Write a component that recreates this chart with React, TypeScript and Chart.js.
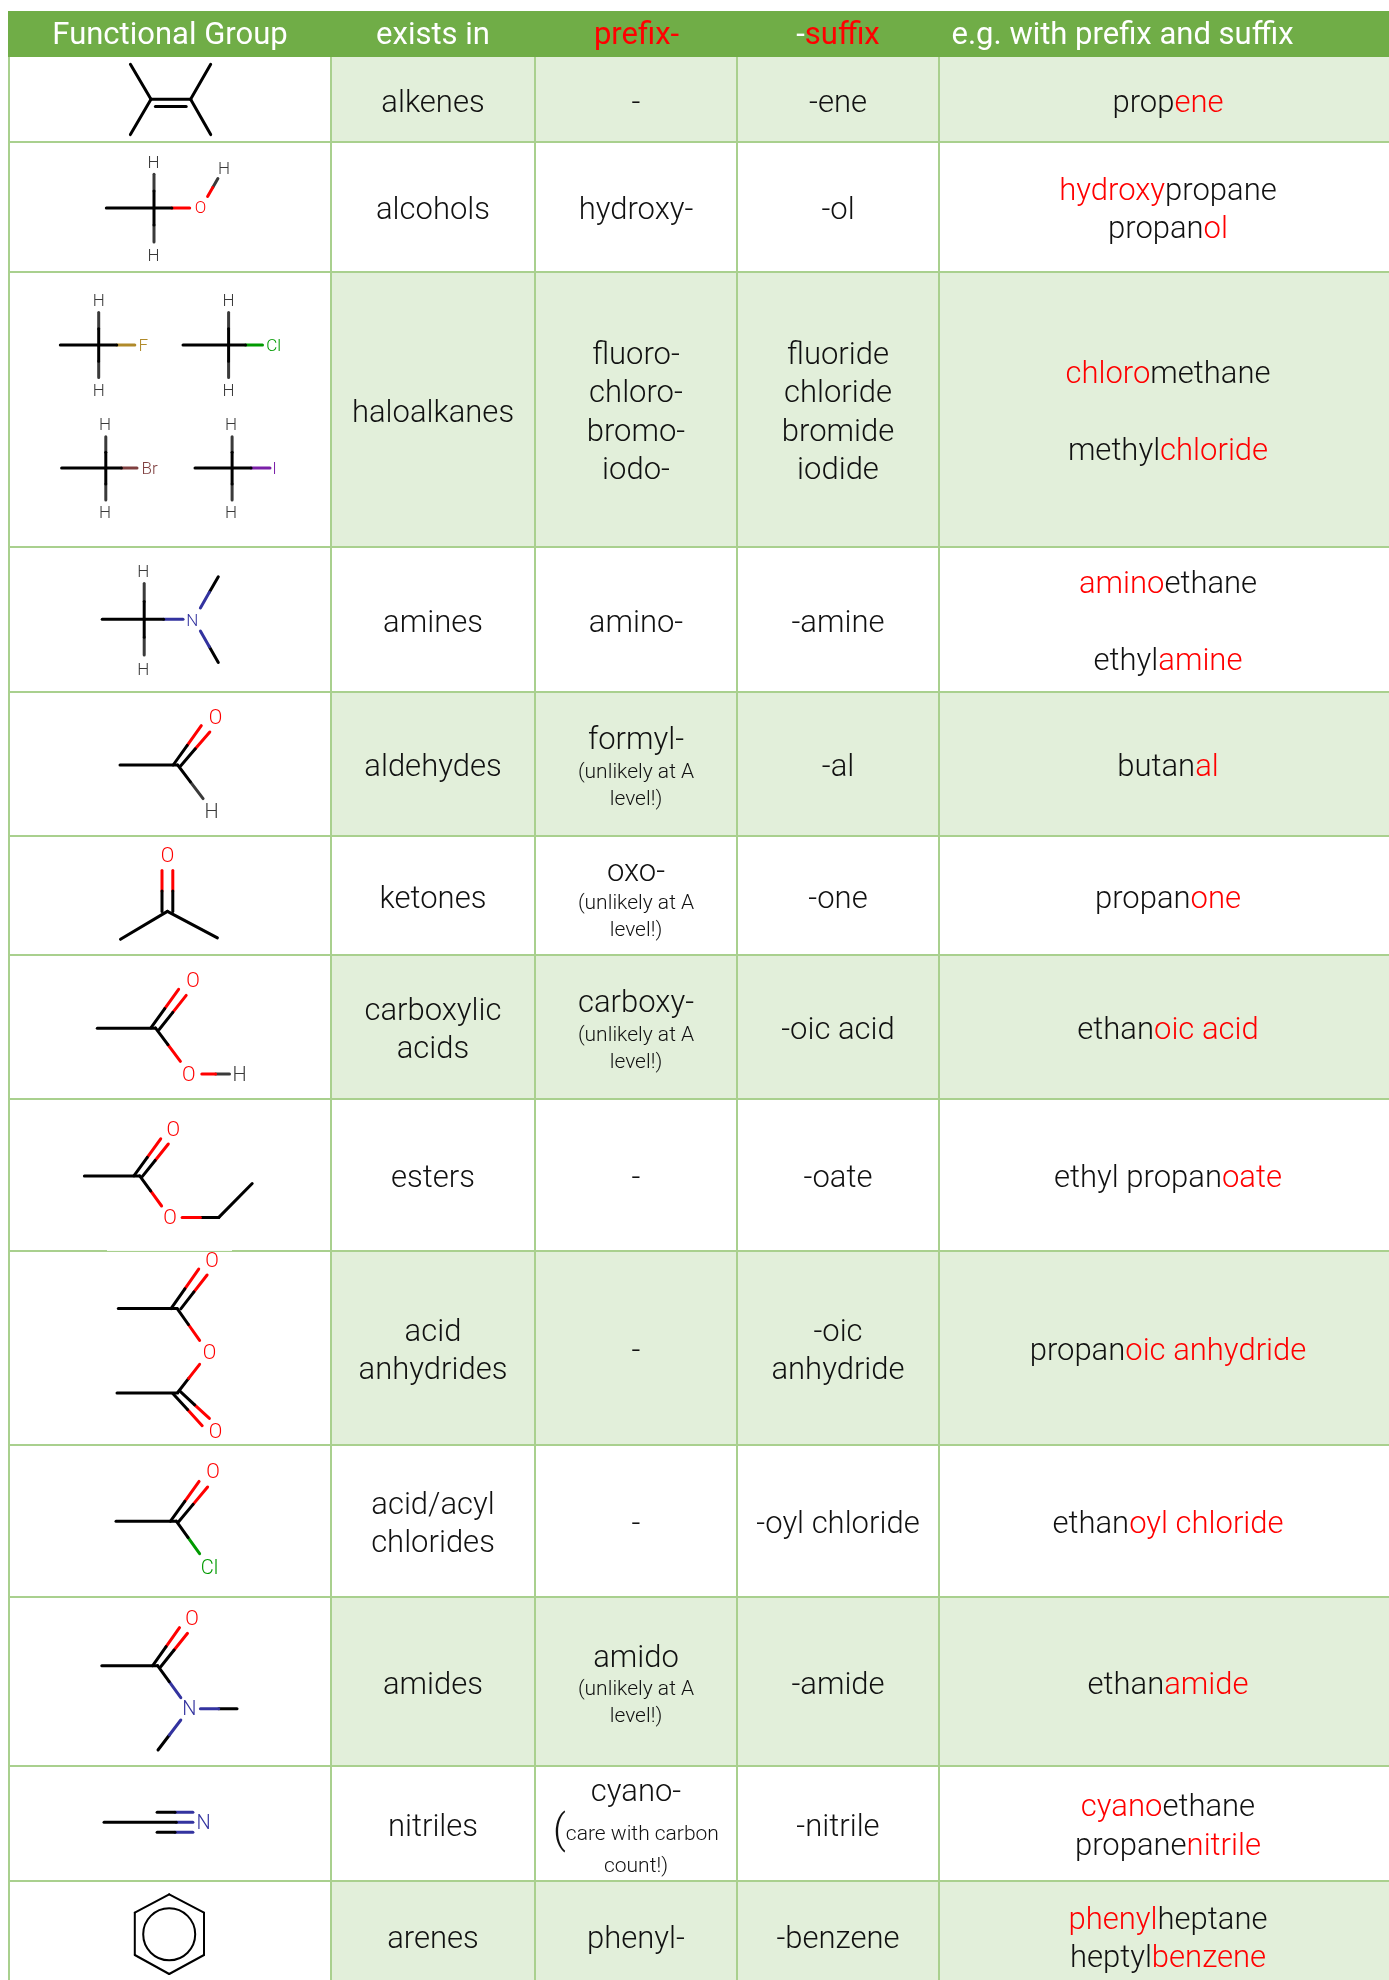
import React, { useEffect, useRef } from "react";
import { Chart, registerables } from "chart.js";

Chart.register(...registerables);

// ---- Table text ({...} marks red text, ~ marks a note line, ^ marks a note with a large bracket)
const headers = ["Functional Group", "exists in", "{prefix-}", "-{suffix}", "e.g. with prefix and suffix"];
const existsIn = [
  ["alkenes"], ["alcohols"], ["haloalkanes"], ["amines"], ["aldehydes"], ["ketones"], ["carboxylic", "acids"],
  ["esters"], ["acid", "anhydrides"], ["acid/acyl", "chlorides"], ["amides"], ["nitriles"], ["arenes"],
];
const note = "~(unlikely at A";
const noteEnd = "~level!)";
const prefixes = [
  ["-"], ["hydroxy-"], ["fluoro-", "chloro-", "bromo-", "iodo-"], ["amino-"],
  ["formyl-", note, noteEnd], ["oxo-", note, noteEnd], ["carboxy-", note, noteEnd],
  ["-"], ["-"], ["-"], ["amido", note, noteEnd],
  ["cyano-", "^(care with carbon", "~count!)"], ["phenyl-"],
];
const suffixes = [
  ["-ene"], ["-ol"], ["fluoride", "chloride", "bromide", "iodide"], ["-amine"], ["-al"], ["-one"], ["-oic acid"],
  ["-oate"], ["-oic", "anhydride"], ["-oyl chloride"], ["-amide"], ["-nitrile"], ["-benzene"],
];
const examples = [
  ["prop{ene}"], ["{hydroxy}propane", "propan{ol}"], ["{chloro}methane", "", "methyl{chloride}"],
  ["{amino}ethane", "", "ethyl{amine}"], ["butan{al}"], ["propan{one}"], ["ethan{oic acid}"],
  ["ethyl propan{oate}"], ["propan{oic anhydride}"], ["ethan{oyl chloride}"], ["ethan{amide}"],
  ["{cyano}ethane", "propane{nitrile}"], ["{phenyl}heptane", "heptyl{benzene}"],
];

// ---- Table grid, in chart units
const columnEdges = [9, 331, 535, 737, 939, 1389];
const columnCenters = [433, 636, 838, 1168];
const headerCenters = [170, 433, 636.5, 838, 1122.5];
const rowEdges = [57, 142, 272, 547, 692, 836, 955, 1099, 1251, 1445, 1597, 1766, 1881, 1991];
const headerTop = 11;

// ---- Molecule bonds: x1, y1, x2, y2, colour of first half, colour of second half
type Bond = [number, number, number, number, string, string?];
const alkene: Bond[] = [
  [151, 99.3, 190.6, 99.3, "k"], [155.4, 106.4, 186.2, 106.4, "k"],
  [130.4, 64.3, 151, 99.3, "k"], [210.7, 64.3, 190.6, 99.3, "k"],
  [130.4, 134.6, 151, 99.3, "k"], [210.7, 134.6, 190.6, 99.3, "k"],
];
const alcohol: Bond[] = [
  [106.3, 207.9, 154, 207.9, "k"], [154, 207.9, 154, 174.3, "k", "h"], [154, 207.9, 154, 242, "k", "h"],
  [154, 207.9, 189.7, 207.9, "k", "r"], [207.6, 196.4, 217.9, 178.6, "r", "h"],
];
const fluoro: Bond[] = [
  [60.3, 345, 98.7, 345, "k"], [98.7, 345, 98.7, 312.5, "k", "h"], [98.7, 345, 98.7, 377.5, "k", "h"],
  [98.7, 345, 134.8, 345, "k", "f"],
];
const chloro: Bond[] = [
  [183, 345, 228.6, 345, "k"], [228.6, 345, 228.6, 312.5, "k", "h"], [228.6, 345, 228.6, 377.5, "k", "h"],
  [228.6, 345, 262.5, 345, "k", "g"],
];
const bromo: Bond[] = [
  [61.6, 467.9, 105.8, 467.9, "k"], [105.8, 467.9, 105.8, 436.8, "k", "h"], [105.8, 467.9, 105.8, 500, "k", "h"],
  [105.8, 467.9, 137, 467.9, "k", "m"],
];
const iodo: Bond[] = [
  [195, 467.9, 232.1, 467.9, "k"], [232.1, 467.9, 232.1, 436.8, "k", "h"], [232.1, 467.9, 232.1, 500, "k", "h"],
  [232.1, 467.9, 270, 467.9, "k", "p"],
];
const amine: Bond[] = [
  [102.2, 619.3, 144.2, 619.3, "k"], [144.2, 619.3, 144.2, 583.6, "k", "h"], [144.2, 619.3, 144.2, 655, "k", "h"],
  [144.2, 619.3, 183, 619.3, "k", "b"], [200.4, 607.9, 218.3, 576.8, "b", "k"], [200.4, 631, 218.3, 662.5, "b", "k"],
];
const aldehyde: Bond[] = [
  [120, 765, 177.7, 765, "k"], [177.7, 765, 203.1, 798.6, "k", "h"],
  [173.2, 765, 201.3, 725.7, "k", "r"], [180.8, 765.7, 209.8, 732, "k", "r"],
];
const ketone: Bond[] = [
  [167.4, 911.4, 120.5, 939.3, "k"], [167.4, 911.4, 217.4, 937.9, "k"],
  [162, 911.4, 162, 870.4, "k", "r"], [172.8, 911.4, 172.8, 870.4, "k", "r"],
];
const carboxyl: Bond[] = [
  [97.3, 1028.3, 155.4, 1028.3, "k"], [150.9, 1027.9, 178.6, 989.3, "k", "r"], [159.4, 1029.3, 186.2, 995.4, "k", "r"],
  [155.4, 1027.9, 180.4, 1061.4, "k", "r"], [201.8, 1073.9, 229.5, 1073.9, "r", "h"],
];
const ester: Bond[] = [
  [84.4, 1175.9, 139.7, 1175.9, "k"], [133.9, 1175.9, 160.7, 1138.8, "k", "r"], [142, 1176.9, 168.3, 1144, "k", "r"],
  [139.7, 1175.9, 161.6, 1206, "k", "r"], [182.1, 1217.4, 218.8, 1217.4, "r", "k"], [218.8, 1217.4, 252.2, 1183.5, "k"],
];
const anhydride: Bond[] = [
  [118.3, 1308.6, 177.2, 1308.6, "k"], [171, 1308.6, 198.7, 1269.1, "k", "r"], [180.8, 1308.9, 207.1, 1275, "k", "r"],
  [177.2, 1308.6, 199.6, 1340.4, "k", "r"], [199.6, 1364.3, 177.7, 1392.5, "r", "k"], [117, 1393, 177.7, 1393, "k"],
  [172.8, 1393.5, 202.2, 1425.7, "k", "r"], [179.9, 1391.2, 209.4, 1418.4, "k", "r"],
];
const acylChloride: Bond[] = [
  [116, 1521.2, 176.3, 1521.2, "k"], [170.5, 1521.2, 199.1, 1481.4, "k", "r"], [178.6, 1521.8, 207.6, 1487, "k", "r"],
  [176.3, 1521.2, 199.6, 1553.7, "k", "g"],
];
const amide: Bond[] = [
  [101.8, 1665.7, 157.6, 1665.7, "k"], [152.7, 1665.7, 179.5, 1627.7, "k", "r"], [160.7, 1666.7, 187.5, 1633.3, "k", "r"],
  [157.6, 1665.7, 180.8, 1697.7, "k", "b"], [200.4, 1708.7, 237, 1708.7, "b", "k"], [180.8, 1720, 158, 1750, "b", "k"],
];
const nitrile: Bond[] = [
  [104, 1822.3, 176.3, 1822.3, "k"], [176.3, 1822.3, 192.9, 1822.3, "b"],
  [157.1, 1812.3, 192.9, 1812.3, "k", "b"], [157.1, 1832.3, 192.9, 1832.3, "k", "b"],
];
const benzene: Bond[] = [
  [169.2, 1894.3, 204, 1912.7, "k"], [204, 1912.7, 204, 1955, "k"], [204, 1955, 169.2, 1974, "k"],
  [169.2, 1974, 134.8, 1955, "k"], [134.8, 1955, 134.8, 1912.7, "k"], [134.8, 1912.7, 169.2, 1894.3, "k"],
];
const benzeneRing = { x: 169.2, y: 1934.3 };
const benzeneRingRadius = 26;

// ---- Atom labels: text, x, y, colour
type Atom = [string, number, number, string];
const smallAtoms: Atom[] = [
  ["H", 153.6, 163.6, "h"], ["H", 153.6, 256.4, "h"], ["O", 200.4, 209, "r"], ["H", 224, 169.6, "h"],
  ["H", 98.7, 302, "h"], ["H", 98.7, 391.8, "h"], ["F", 143.3, 346.4, "f"],
  ["H", 228.6, 302, "h"], ["H", 228.6, 391.8, "h"], ["Cl", 273.7, 346.4, "g"],
  ["H", 105, 426, "h"], ["H", 105, 513.6, "h"], ["Br", 149.6, 470, "m"],
  ["H", 231, 426, "h"], ["H", 231, 513.6, "h"], ["I", 274.6, 470, "p"],
  ["H", 143.3, 572.9, "h"], ["H", 143.3, 670.4, "h"], ["N", 192.4, 621.4, "b"],
];
const largeAtoms: Atom[] = [
  ["O", 215.6, 718.6, "r"], ["H", 211.6, 813.2, "h"],
  ["O", 167.4, 857, "r"],
  ["O", 192.9, 981.8, "r"], ["O", 188.8, 1075.7, "r"], ["H", 239.7, 1075.7, "h"],
  ["O", 173.2, 1131.1, "r"], ["O", 170, 1218.7, "r"],
  ["O", 212, 1261.8, "r"], ["O", 209.4, 1353.7, "r"], ["O", 215.6, 1433.3, "r"],
  ["O", 213, 1472.7, "r"], ["Cl", 209.4, 1568.6, "g"],
  ["O", 192, 1620.3, "r"], ["N", 189.3, 1710, "b"],
  ["N", 203.6, 1824, "b"],
];

const palette: Record<string, string> = {
  k: "#000000", h: "#3a3a3a", r: "#ff0000", b: "#33339f", g: "#009a00", f: "#b08a2a", m: "#7f3f3f", p: "#7a1fa8",
};
const RED = "#ff0000";
const INK = "#111111";
const HEADER_FILL = "#70ad47";
const STRIPE_FILL = "#e2efda";
const GRID = "#a9d08e";
const FACE = "Roboto, 'Liberation Sans', sans-serif";

type Seg = { text: string; red: boolean };
function parseSegs(line: string): Seg[] {
  const out: Seg[] = [];
  line.split(/(\{[^}]*\})/).forEach((p) => {
    if (!p) return;
    if (p[0] === "{") out.push({ text: p.slice(1, -1), red: true });
    else out.push({ text: p, red: false });
  });
  return out;
}

const LINE = { main: 38.5, note: 27, care: 42 };
const SIZE = { main: 31, note: 21 };
const BASE = { main: 11, note: 7, care: 10 };

function drawCell(ctx: CanvasRenderingContext2D, lines: string[], cx: number, cy: number) {
  const kinds = lines.map((l) => (l[0] === "~" ? "note" : l[0] === "^" ? "care" : "main")) as ("main" | "note" | "care")[];
  const total = kinds.reduce((a, k) => a + LINE[k], 0);
  let y = cy - total / 2;
  lines.forEach((raw, i) => {
    const k = kinds[i];
    const h = LINE[k];
    const base = y + h / 2 + BASE[k];
    y += h;
    if (!raw) return;
    const size = k === "main" ? SIZE.main : SIZE.note;
    const line = k === "main" ? raw : raw.slice(1);
    ctx.textBaseline = "alphabetic";
    ctx.textAlign = "left";
    if (k === "care") {
      const rest = line.slice(1);
      ctx.font = `300 40px ${FACE}`;
      const w0 = ctx.measureText("(").width;
      ctx.font = `300 ${size}px ${FACE}`;
      const w1 = ctx.measureText(rest).width;
      const left = cx - (w0 + w1) / 2;
      ctx.fillStyle = INK;
      ctx.font = `300 40px ${FACE}`;
      ctx.fillText("(", left, base + 3);
      ctx.font = `300 ${size}px ${FACE}`;
      ctx.fillText(rest, left + w0, base);
      return;
    }
    ctx.font = `300 ${size}px ${FACE}`;
    const segs = parseSegs(line);
    const width = segs.reduce((a, s) => a + ctx.measureText(s.text).width, 0);
    let x = cx - width / 2;
    segs.forEach((s) => {
      ctx.fillStyle = s.red ? RED : INK;
      ctx.fillText(s.text, x, base);
      x += ctx.measureText(s.text).width;
    });
  });
}

const tablePlugin = {
  id: "table",
  beforeDatasetsDraw(chart: any) {
    const { ctx, scales } = chart;
    const X = (v: number) => scales.x.getPixelForValue(v);
    const Y = (v: number) => scales.y.getPixelForValue(v);
    ctx.save();
    ctx.fillStyle = HEADER_FILL;
    ctx.fillRect(X(columnEdges[0] - 1), Y(headerTop), X(1389) - X(columnEdges[0] - 1), Y(rowEdges[0]) - Y(headerTop));
    ctx.fillStyle = STRIPE_FILL;
    for (let r = 0; r < rowEdges.length - 1; r += 2) {
      ctx.fillRect(X(columnEdges[1]), Y(rowEdges[r]), X(1389) - X(columnEdges[1]), Y(rowEdges[r + 1]) - Y(rowEdges[r]));
    }
    ctx.restore();
  },
  afterDatasetsDraw(chart: any) {
    const { ctx, scales } = chart;
    const X = (v: number) => scales.x.getPixelForValue(v);
    const Y = (v: number) => scales.y.getPixelForValue(v);
    ctx.save();
    // header
    ctx.textBaseline = "alphabetic";
    ctx.textAlign = "left";
    ctx.font = `400 31px ${FACE}`;
    headers.forEach((h, i) => {
      const segs = parseSegs(h);
      const width = segs.reduce((a, s) => a + ctx.measureText(s.text).width, 0);
      let x = X(headerCenters[i]) - width / 2;
      segs.forEach((s) => {
        ctx.fillStyle = s.red ? RED : "#ffffff";
        ctx.fillText(s.text, x, Y(44));
        x += ctx.measureText(s.text).width;
      });
    });
    // body cells
    const cols = [existsIn, prefixes, suffixes, examples];
    cols.forEach((col, c) => {
      col.forEach((lines, r) => {
        const cy = (rowEdges[r] + rowEdges[r + 1]) / 2 + 1;
        drawCell(ctx, lines, X(columnCenters[c]), Y(cy));
      });
    });
    // atom labels
    ctx.textAlign = "center";
    ctx.textBaseline = "middle";
    const drawAtoms = (list: Atom[], size: number) => {
      ctx.font = `300 ${size}px ${FACE}`;
      list.forEach(([t, x, y, col]) => {
        ctx.fillStyle = palette[col];
        ctx.fillText(t, X(x), Y(y));
      });
    };
    drawAtoms(smallAtoms, 17);
    drawAtoms(largeAtoms, 20);
    ctx.restore();
  },
};

function lineDataset(pts: { x: number; y: number }[], color: string, width: number, cap = "round") {
  return {
    type: "line" as const,
    data: pts,
    borderColor: color,
    borderWidth: width,
    borderCapStyle: cap,
    pointRadius: 0,
    tension: 0,
    fill: false,
  };
}

function bondDatasets(bonds: Bond[], width = 3) {
  const out: any[] = [];
  bonds.forEach(([x1, y1, x2, y2, a, b]) => {
    if (b) {
      const mx = (x1 + x2) / 2;
      const my = (y1 + y2) / 2;
      out.push(lineDataset([{ x: x1, y: y1 }, { x: mx, y: my }], palette[a], width));
      out.push(lineDataset([{ x: mx, y: my }, { x: x2, y: y2 }], palette[b], width));
    } else {
      out.push(lineDataset([{ x: x1, y: y1 }, { x: x2, y: y2 }], palette[a], width));
    }
  });
  return out;
}

function gridDatasets() {
  const out: any[] = [];
  const bottom = rowEdges[rowEdges.length - 1];
  columnEdges.slice(0, 5).forEach((x) => {
    out.push(lineDataset([{ x, y: rowEdges[0] }, { x, y: bottom }], GRID, 2, "butt"));
  });
  rowEdges.slice(1, -1).forEach((y) => {
    out.push(lineDataset([{ x: columnEdges[0], y }, { x: 1389, y }], GRID, 2, "butt"));
  });
  return out;
}

export default function App() {
  const ref = useRef<HTMLCanvasElement | null>(null);
  useEffect(() => {
    if (!ref.current) return;
    const molecules = [
      alkene, alcohol, fluoro, chloro, bromo, iodo, amine, aldehyde, ketone, carboxyl,
      ester, anhydride, acylChloride, amide, nitrile,
    ];
    const datasets: any[] = [
      ...molecules.flatMap((m) => bondDatasets(m)),
      ...bondDatasets(benzene, 2),
      {
        type: "scatter",
        data: [benzeneRing],
        pointRadius: benzeneRingRadius,
        pointBackgroundColor: "rgba(0,0,0,0)",
        pointBorderColor: "#000000",
        pointBorderWidth: 2,
      },
      lineDataset([{ x: 107, y: 1250.4 }, { x: 232, y: 1250.4 }], "#ffffff", 1, "butt"),
      ...gridDatasets(),
    ];
    const chart = new Chart(ref.current, {
      type: "scatter",
      data: { datasets },
      options: {
        animation: false,
        responsive: false,
        events: [],
        layout: { padding: 0, autoPadding: false },
        plugins: { legend: { display: false }, tooltip: { enabled: false }, title: { display: false } },
        scales: {
          x: { type: "linear", min: 0, max: 1389, display: false },
          y: { type: "linear", min: 0, max: 1980, reverse: true, display: false },
        },
      },
      plugins: [tablePlugin],
    } as any);
    return () => chart.destroy();
  }, []);
  return (
    <canvas
      ref={ref}
      width={1389}
      height={1980}
      style={{ position: "absolute", left: 0, top: 0, display: "block", background: "#ffffff" }}
    />
  );
}
